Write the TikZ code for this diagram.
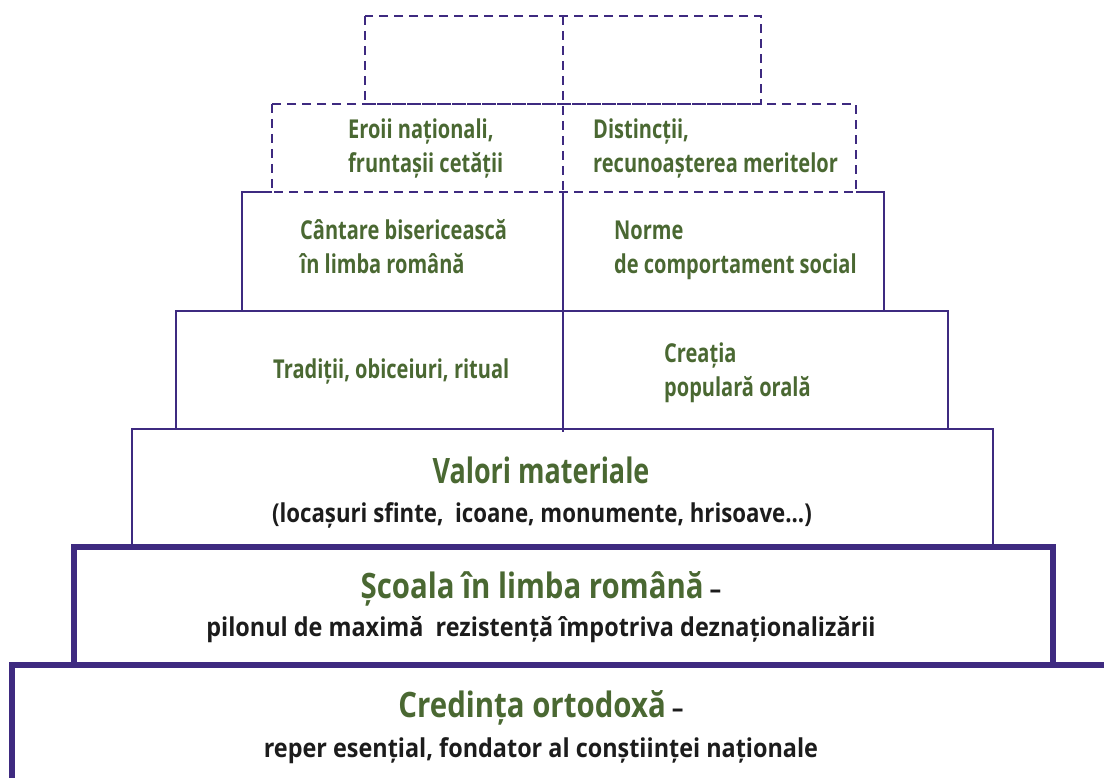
\documentclass[tikz,border=0pt]{standalone}
\usepackage{fontspec}
\setmainfont{Open Sans}
\newfontfamily\gfont{Open Sans}[FakeStretch=0.77]
\newfontfamily\hfont{Open Sans}[FakeStretch=0.84]
\newfontfamily\vfont{Open Sans}[FakeStretch=0.77]
\newfontfamily\sfont{Open Sans}[FakeStretch=0.90]
\newfontfamily\lfont{Open Sans}[FakeStretch=0.855]
\definecolor{lin}{RGB}{62,42,128}
\definecolor{grn}{RGB}{74,104,50}
\definecolor{blk}{RGB}{28,28,28}
\begin{document}
\begin{tikzpicture}[x=1pt,y=-1pt,
  thinbox/.style={draw=lin,line width=1.2pt},
  dashbox/.style={draw=lin,line width=1.4pt,dash pattern=on 9pt off 6pt},
  midbox/.style={draw=lin,line width=1.8pt},
  thickbox/.style={draw=lin,line width=6pt},
  lab/.style={anchor=base west,inner sep=0pt,align=left,text=grn,font=\gfont\bfseries\fontsize{26}{34}\selectfont},
  big/.style={anchor=base,inner sep=0pt,text=grn,font=\vfont\bfseries\fontsize{35}{40}\selectfont},
  sub/.style={anchor=base,inner sep=0pt,text=blk,font=\sfont\bfseries\fontsize{26}{30}\selectfont}]
\useasboundingbox (0,0) rectangle (1104,778);
% boxes
\draw[thickbox] (12,782) -- (12,665) -- (1108,665);
\draw[thickbox] (74,547) rectangle (1053,665);
\draw[midbox] (132,429) rectangle (993,547);
\draw[thinbox] (176,311) rectangle (948,429);
\draw[thinbox] (272,192) -- (242,192) -- (242,311) -- (884,311) -- (884,192) -- (856,192);
\draw[dashbox] (272,104) rectangle (856,192);
\draw[dashbox] (365,16) rectangle (761,104);
% divider
\coordinate (dtop) at (563,16);
\coordinate (dmid) at (563,192);
\coordinate (dbot) at (563,432);
\draw[draw=lin,line width=1.4pt,dash pattern=on 9pt off 6pt] (dtop) -- (dmid);
\draw[draw=lin,line width=1.4pt] (dmid) -- (dbot);
% texts (base of a two-line node is its last line)
\node[lab] (eroi) at (348,173) {Eroii naționali,\\fruntașii cetății};
\node[lab] (dist) at (593,173) {Distincții,\\recunoașterea meritelor};
\node[lab] (cant) at (300,274) {Cântare bisericească\\în limba română};
\node[lab] (norm) at (614,274) {Norme\\de comportament social};
\node[lab] (trad) at (273,378) {Tradiții, obiceiuri, ritual};
\node[lab] (crea) at (664,396) {Creația\\populară orală};
\node[big] (val) at (541,483) {Valori materiale};
\node[sub,font=\lfont\bfseries\fontsize{26}{30}\selectfont] (loc) at (542,522) {(locașuri sfinte,\ \ icoane, monumente, hrisoave...)};
\node[sub] (scoala) at (541,598) {{\hfont\bfseries\color{grn}\fontsize{35}{40}\selectfont Școala în limba română} –};
\node[sub] (pil) at (541,636) {pilonul de maximă\ \ rezistență împotriva deznaționalizării};
\node[sub] (cred) at (541,717) {{\hfont\bfseries\color{grn}\fontsize{35}{40}\selectfont Credința ortodoxă} –};
\node[sub] (rep) at (541,757) {reper esențial, fondator al conștiinței naționale};
\end{tikzpicture}
\end{document}
